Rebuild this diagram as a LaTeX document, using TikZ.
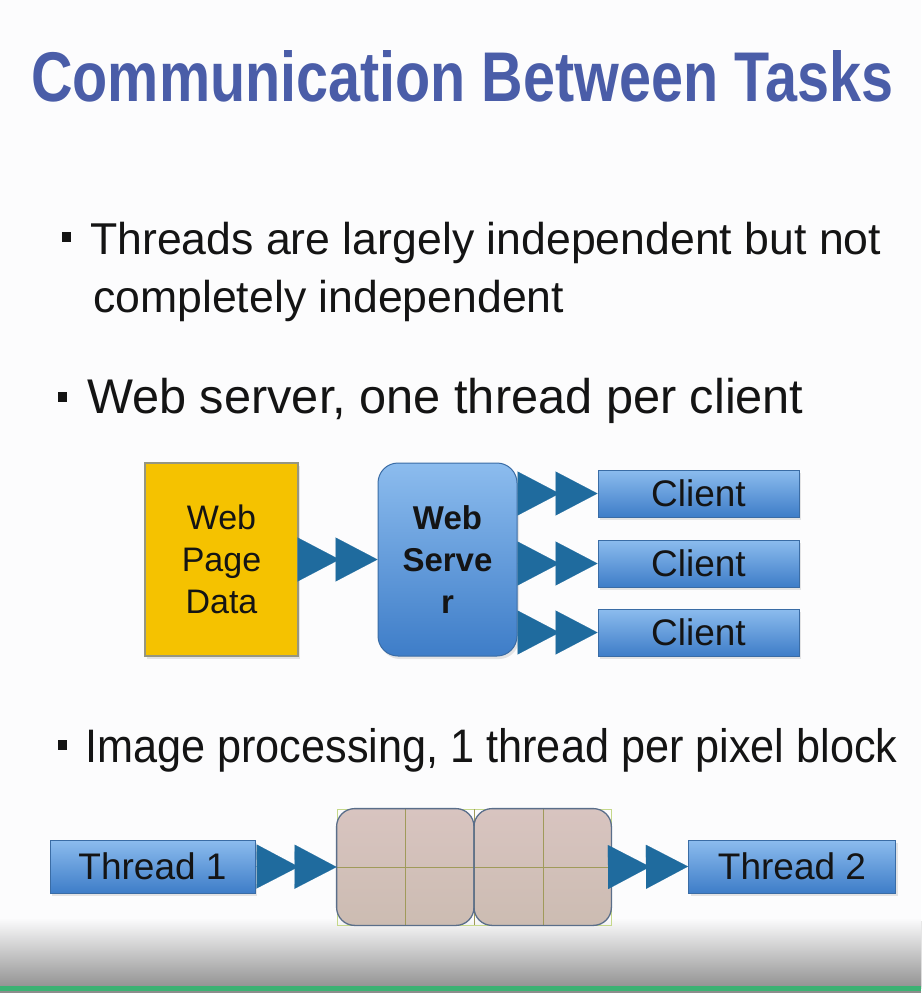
\documentclass[tikz,border=0pt]{standalone}
\usepackage{fontspec}
\setmainfont{Liberation Sans}
\usepackage{graphicx}
\usetikzlibrary{arrows.meta,shadows}
\definecolor{titleblue}{RGB}{74,93,168}
\definecolor{ink}{RGB}{20,20,20}
\definecolor{bgcol}{RGB}{252,252,253}
\definecolor{boxtop}{RGB}{140,188,238}
\definecolor{boxbot}{RGB}{62,125,200}
\definecolor{boxedge}{RGB}{58,108,165}
\definecolor{arrowblue}{RGB}{31,107,158}
\definecolor{datayellow}{RGB}{245,194,0}
\definecolor{dataedge}{RGB}{150,150,128}
\definecolor{pixtop}{RGB}{216,196,192}
\definecolor{pixbot}{RGB}{204,188,178}
\definecolor{pixedge}{RGB}{90,110,138}
\definecolor{gridcol}{RGB}{160,154,90}
\definecolor{gridgreen}{RGB}{197,216,138}
\definecolor{bandgreen}{RGB}{59,178,115}
\begin{document}
\begin{tikzpicture}[x=1pt,y=-1pt,
    txt/.style={anchor=base west,inner sep=0pt,text=ink},
    bullet/.style={fill=ink,inner sep=0pt,minimum width=9pt,minimum height=10pt},
    shade/.style={drop shadow={opacity=0.2,shadow xshift=2pt,shadow yshift=-3pt}},
    bluebox/.style={draw=boxedge,line width=1pt,top color=boxtop,bottom color=boxbot,
      inner sep=0pt,text=ink,font=\fontsize{37}{40}\selectfont,shade},
    dblarrow/.style={draw=arrowblue,fill=arrowblue,line width=0.1pt,
      -{Triangle[length=42pt,width=44pt,sep=-4pt]Triangle[length=42pt,width=44pt]}},
    pixcell/.style={top color=pixtop,bottom color=pixbot,rounded corners=18pt},
    pixgrid/.style={draw=gridcol,line width=0.8pt}]
  \useasboundingbox (0,0) rectangle (921,993);
  \fill[bgcol] (0,0) rectangle (921,993);
  \shade[top color=bgcol,bottom color=black!42] (0,918) rectangle (921,986);
  \fill[bandgreen] (0,986) rectangle (921,991);
  \fill[black!45] (0,991) rectangle (921,993);
  % title
  \node[anchor=base west,inner sep=0pt,text=titleblue] (title) at (31,101)
    {\resizebox{862pt}{51pt}{\bfseries Communication Between Tasks}};
  % bullets
  \node[bullet] (d1) at (66,237) {};
  \node[txt,font=\fontsize{44.6}{54}\selectfont] (t1) at (90,254) {Threads are largely independent but not};
  \node[txt,font=\fontsize{44.6}{54}\selectfont] (t1b) at (93,312) {completely independent};
  \node[bullet] (d2) at (62,397) {};
  \node[txt,font=\fontsize{48.7}{56}\selectfont] (t2) at (87,413) {Web server, one thread per client};
  \node[bullet] (d3) at (62,745) {};
  \node[txt,font=\fontsize{47}{56}\selectfont] (t3) at (85,762) {\scalebox{0.92}[1]{Image processing, 1 thread per pixel block}};
  % web server
  \node[draw=dataedge,line width=1.2pt,fill=datayellow,minimum width=153pt,minimum height=193pt,
    inner sep=0pt,align=center,font=\fontsize{34}{42}\selectfont,text=ink,shade] (data) at (221.5,559.5) {Web\\Page\\Data};
  \node[bluebox,rounded corners=20pt,minimum width=139pt,minimum height=193pt,align=center,
    font=\fontsize{33}{42}\selectfont\bfseries] (server) at (447.5,559.5) {Web\\Serve\\r};
  \foreach \y/\n in {493.5/1,563.5/2,632.5/3}
    \node[bluebox,minimum width=201pt,minimum height=47pt] (c\n) at (698.5,\y) {Client};
  \draw[dblarrow] (data.east) -- (server.west);
  \foreach \n in {1,2,3}
    \draw[dblarrow] (server.east |- c\n.west) -- (c\n.west);
  % pixel blocks
  \node[bluebox,minimum width=205pt,minimum height=53pt] (th1) at (152.5,866.5) {Thread 1};
  \node[bluebox,minimum width=207pt,minimum height=53pt] (th2) at (792,866.5) {Thread 2};
  \node[draw=gridgreen,line width=0.8pt,minimum width=274pt,minimum height=116pt,inner sep=0pt] (pix) at (474,867) {};
  \foreach \a/\b in {pix.north west/pix.south,pix.north/pix.south east}
    \path[pixcell] (\a) rectangle (\b);
  \foreach \x in {405,474,543}
    \draw[pixgrid] (\x,809) -- (\x,925);
  \draw[pixgrid] (pix.west) -- (pix.east);
  \foreach \a/\b in {pix.north west/pix.south,pix.north/pix.south east}
    \draw[draw=pixedge,line width=1.3pt,rounded corners=18pt] (\a) rectangle (\b);
  \draw[dblarrow] (th1.east) -- (pix.west);
  \draw[dblarrow] (pix.east) -- (th2.west);
\end{tikzpicture}
\end{document}
